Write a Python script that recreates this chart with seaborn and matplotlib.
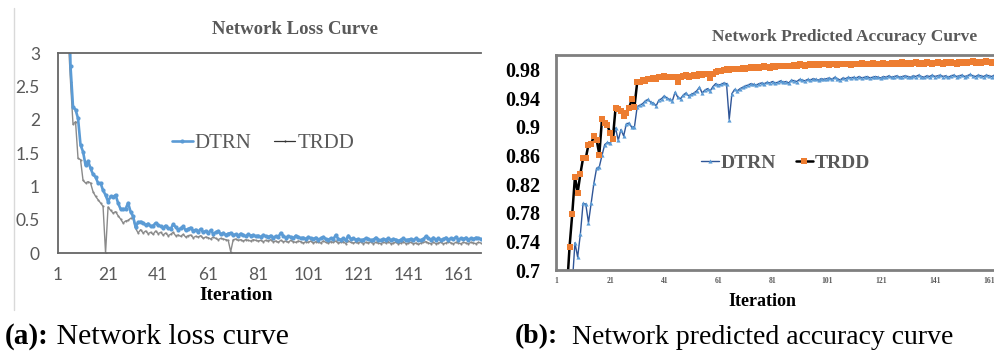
import numpy as np
import pandas as pd
import matplotlib
matplotlib.use('Agg')
import matplotlib.pyplot as plt
import seaborn as sns
from matplotlib.lines import Line2D

# ---- data ----
loss_dtrn = [7.5, 6.6, 5.8, 5.1, 4.5, 2.8, 2.19, 2.15, 2.02, 1.62,
             1.52, 1.32, 1.38, 1.27, 1.18, 1.14, 1.05, 1.05, 0.94, 0.87,
             0.77, 0.85, 0.84, 0.87, 0.75, 0.66, 0.66, 0.66, 0.75, 0.62,
             0.55, 0.39, 0.46,
             0.47, 0.45, 0.42, 0.44, 0.40, 0.41, 0.45,
             0.42, 0.40, 0.38, 0.41, 0.37, 0.36, 0.43, 0.39, 0.35, 0.37,
             0.40, 0.34, 0.36, 0.38, 0.33, 0.35, 0.32, 0.36, 0.31, 0.33,
             0.30, 0.34, 0.29, 0.31, 0.33, 0.28, 0.30, 0.27, 0.29, 0.30,
             0.27, 0.28, 0.26, 0.29, 0.27, 0.25, 0.28, 0.26, 0.27, 0.25,
             0.26, 0.24, 0.27, 0.25, 0.24, 0.26, 0.23, 0.25, 0.24, 0.30,
             0.26, 0.23, 0.25, 0.24, 0.22, 0.26, 0.24, 0.22, 0.23, 0.21,
             0.24, 0.22, 0.21, 0.23, 0.20, 0.22, 0.24, 0.21, 0.20, 0.22,
             0.21, 0.27, 0.21, 0.20, 0.22, 0.19, 0.26, 0.21, 0.22, 0.20,
             0.21, 0.19, 0.20, 0.22, 0.21, 0.19, 0.20, 0.23, 0.20, 0.19,
             0.21, 0.20, 0.22, 0.19, 0.21, 0.20, 0.18, 0.20, 0.22, 0.19,
             0.20, 0.21, 0.19, 0.22, 0.20, 0.19, 0.21, 0.25, 0.22, 0.20,
             0.23, 0.20, 0.22, 0.19, 0.21, 0.23, 0.20, 0.22, 0.21, 0.24,
             0.20, 0.22, 0.21, 0.23, 0.20, 0.22, 0.21, 0.23, 0.22, 0.21]

loss_trdd = [6.5, 5.6, 5.0, 4.4, 3.3, 2.57, 1.93, 1.97, 1.42, 1.40,
             1.09, 1.05, 1.07, 1.05, 0.92, 0.85, 0.80, 0.75, 0.70, 0.0,
             0.69, 0.64, 0.60, 0.62, 0.56, 0.51, 0.45, 0.48, 0.49, 0.52,
             0.52, 0.37, 0.30,
             0.35, 0.30, 0.33, 0.29, 0.31, 0.28, 0.33,
             0.29, 0.31, 0.27, 0.30, 0.26, 0.28, 0.31, 0.26, 0.27, 0.25,
             0.28, 0.24, 0.26, 0.27, 0.23, 0.25, 0.24, 0.26, 0.22, 0.24,
             0.23, 0.21, 0.24, 0.22, 0.20, 0.22, 0.21, 0.20, 0.19, 0.02,
             0.20, 0.21, 0.19, 0.20, 0.18, 0.20, 0.19, 0.18, 0.20, 0.19,
             0.18, 0.19, 0.17, 0.19, 0.18, 0.20, 0.17, 0.18, 0.16, 0.19,
             0.17, 0.18, 0.16, 0.19, 0.17, 0.16, 0.18, 0.17, 0.15, 0.17,
             0.16, 0.18, 0.15, 0.17, 0.16, 0.15, 0.18, 0.16, 0.15, 0.17,
             0.16, 0.18, 0.15, 0.16, 0.17, 0.14, 0.18, 0.16, 0.15, 0.16,
             0.15, 0.17, 0.14, 0.16, 0.15, 0.17, 0.14, 0.16, 0.15, 0.14,
             0.16, 0.15, 0.17, 0.14, 0.15, 0.16, 0.14, 0.15, 0.17, 0.14,
             0.15, 0.16, 0.14, 0.15, 0.13, 0.15, 0.16, 0.17, 0.15, 0.14,
             0.16, 0.14, 0.15, 0.16, 0.14, 0.15, 0.17, 0.15, 0.14, 0.16,
             0.15, 0.14, 0.16, 0.15, 0.14, 0.16, 0.15, 0.14, 0.16, 0.15]

acc_dtrn = [0.55, 0.58, 0.61, 0.63, 0.65, 0.66, 0.68, 0.738, 0.718, 0.750,
            0.793, 0.792, 0.766, 0.793, 0.821, 0.842, 0.844, 0.860, 0.875, 0.878,
            0.877, 0.883, 0.898, 0.881, 0.896, 0.887, 0.904, 0.905, 0.899, 0.900,
            0.928, 0.930, 0.932, 0.936, 0.938, 0.934, 0.933, 0.929, 0.937, 0.939,
            0.943, 0.940, 0.938, 0.936, 0.948, 0.941, 0.939, 0.944, 0.947, 0.943,
            0.945, 0.947, 0.950, 0.955, 0.947, 0.951, 0.953, 0.950, 0.956, 0.960,
            0.958, 0.959, 0.961, 0.960, 0.910, 0.946, 0.952, 0.950, 0.953, 0.955,
            0.957, 0.958, 0.960, 0.959, 0.958, 0.960, 0.961, 0.960, 0.962, 0.961,
            0.963, 0.961, 0.962, 0.964, 0.962, 0.963, 0.961, 0.965, 0.964, 0.963,
            0.966, 0.965, 0.964, 0.966, 0.965, 0.967, 0.966, 0.965, 0.967, 0.966,
            0.967, 0.968, 0.966, 0.969, 0.967, 0.965, 0.968, 0.967, 0.969, 0.968,
            0.969, 0.968, 0.970, 0.968, 0.969, 0.970, 0.968, 0.969, 0.970, 0.969,
            0.968, 0.970, 0.969, 0.971, 0.969, 0.970, 0.971, 0.969, 0.970, 0.971,
            0.970, 0.969, 0.971, 0.970, 0.972, 0.970, 0.969, 0.971, 0.970, 0.972,
            0.970, 0.971, 0.972, 0.970, 0.971, 0.969, 0.971, 0.972, 0.970, 0.971,
            0.972, 0.970, 0.971, 0.973, 0.971, 0.970, 0.972, 0.971, 0.970, 0.972,
            0.971, 0.970, 0.972, 0.971, 0.970]

acc_trdd = [0.50, 0.55, 0.60, 0.64, 0.67, 0.732, 0.778, 0.830, 0.808, 0.834,
            0.856, 0.856, 0.875, 0.876, 0.887, 0.882, 0.861, 0.911, 0.905, 0.902,
            0.891, 0.883, 0.926, 0.924, 0.922, 0.915, 0.919, 0.926, 0.938, 0.928,
            0.962, 0.962, 0.965, 0.964, 0.967, 0.966, 0.968, 0.967, 0.969, 0.970,
            0.971, 0.970, 0.969, 0.970, 0.969, 0.963, 0.970, 0.971, 0.972, 0.970,
            0.971, 0.972, 0.971, 0.973, 0.972, 0.974, 0.973, 0.968, 0.974, 0.976,
            0.977, 0.978, 0.979, 0.980, 0.979, 0.980, 0.981, 0.980, 0.981, 0.982,
            0.981, 0.982, 0.983, 0.982, 0.983, 0.982, 0.983, 0.984, 0.983, 0.982,
            0.984, 0.983, 0.984, 0.985, 0.984, 0.985, 0.984, 0.985, 0.986, 0.985,
            0.987, 0.986, 0.985, 0.986, 0.987, 0.986, 0.987, 0.986, 0.987, 0.988,
            0.987, 0.986, 0.988, 0.987, 0.986, 0.988, 0.987, 0.988, 0.987, 0.986,
            0.988, 0.987, 0.988, 0.989, 0.987, 0.988, 0.987, 0.989, 0.988, 0.987,
            0.988, 0.989, 0.988, 0.987, 0.989, 0.988, 0.989, 0.988, 0.990, 0.988,
            0.989, 0.988, 0.989, 0.990, 0.988, 0.989, 0.988, 0.990, 0.989, 0.988,
            0.989, 0.990, 0.989, 0.988, 0.990, 0.989, 0.990, 0.989, 0.988, 0.990,
            0.989, 0.990, 0.989, 0.990, 0.991, 0.989, 0.990, 0.989, 0.990, 0.991,
            0.990, 0.989, 0.990, 0.991, 0.990]

iter_loss = np.arange(1, len(loss_dtrn) + 1)
iter_acc = np.arange(1, len(acc_dtrn) + 1)
x_ticks = [1, 21, 41, 61, 81, 101, 121, 141, 161]
loss_ticks = [0, 0.5, 1, 1.5, 2, 2.5, 3]
loss_labels = ['0', '0.5', '1', '1.5', '2', '2.5', '3']
acc_ticks = [0.7, 0.74, 0.78, 0.82, 0.86, 0.9, 0.94, 0.98]
acc_labels = ['0.7', '0.74', '0.78', '0.82', '0.86', '0.9', '0.94', '0.98']

sns.set_style('white')
serif = ['Liberation Serif', 'DejaVu Serif']
plt.rcParams['font.family'] = serif

fig = plt.figure(figsize=(9.95, 3.54), dpi=100)
W, H = 995, 354

def px_axes(x0, y0, x1, y1):
    return fig.add_axes([x0 / W, 1 - y1 / H, (x1 - x0) / W, (y1 - y0) / H])

ax1 = px_axes(58, 53, 481, 253)
ax2 = px_axes(556, 55, 995, 270)

# ---- (a) loss ----
sns.lineplot(x=iter_loss, y=loss_trdd, ax=ax1, color='#8a8a8a', lw=1.0,
             marker='o', ms=1.5, mec='#8a8a8a', mew=0, label='TRDD')
sns.lineplot(x=iter_loss, y=loss_dtrn, ax=ax1, color='#5b9bd5', lw=1.9,
             marker='o', ms=3, mec='#5b9bd5', mew=0, label='DTRN')
ax1.set_xlim(1, 170)
ax1.set_ylim(0, 3)
ax1.set_xticks(x_ticks)
ax1.set_yticks(loss_ticks)
ax1.set_yticklabels(loss_labels)
ax1.tick_params(length=0, labelsize=12.5, colors='#595959')
ax1.tick_params(axis='y', pad=13)
ax1.tick_params(axis='x', pad=10)
for lab in ax1.get_xticklabels() + ax1.get_yticklabels():
    lab.set_family(['Lato', 'DejaVu Sans'])
for s in ['left', 'top', 'bottom']:
    ax1.spines[s].set_color('#666666')
    ax1.spines[s].set_linewidth(1.3)
ax1.spines['right'].set_visible(False)
ax1.set_xlabel('')
ax1.set_ylabel('')

h1 = [Line2D([], [], color='#5b9bd5', lw=1.9, marker='o', ms=3, mew=0),
      Line2D([], [], color='#333333', lw=0.9, marker='o', ms=1.5, mew=0)]
leg1 = ax1.legend(h1, ['DTRN', 'TRDD'], ncol=2, frameon=False, loc='center',
                  bbox_to_anchor=(263 / W, 1 - 143 / H), bbox_transform=fig.transFigure,
                  handlelength=1.0, handletextpad=0.1, columnspacing=1.1,
                  prop={'family': serif, 'size': 15})
for t in leg1.get_texts():
    t.set_color('#595959')
    t.set_family(serif)

# ---- (b) accuracy ----
sns.lineplot(x=iter_acc, y=acc_dtrn, ax=ax2, color='#2f5597', lw=1.0,
             marker='^', ms=3, mec='#5b9bd5', mfc='#5b9bd5', mew=0, label='DTRN')
sns.lineplot(x=iter_acc, y=acc_trdd, ax=ax2, color='black', lw=1.8,
             marker='s', ms=4, mec='#ed7d31', mfc='#ed7d31', mew=0, label='TRDD')
ax2.set_xlim(1, 163.2)
ax2.set_ylim(0.7, 1.0)
ax2.set_xticks(x_ticks)
ax2.set_yticks(acc_ticks)
ax2.set_yticklabels(acc_labels)
ax2.tick_params(length=0)
ax2.tick_params(axis='y', labelsize=14.5, colors='black', pad=11)
ax2.tick_params(axis='x', labelsize=5.5, colors='#595959', pad=5)
for lab in ax2.get_yticklabels() + ax2.get_xticklabels():
    lab.set_fontweight('bold')
for s in ['left', 'top', 'bottom']:
    ax2.spines[s].set_color('#7f7f7f')
    ax2.spines[s].set_linewidth(2)
ax2.spines['right'].set_visible(False)
ax2.set_xlabel('')
ax2.set_ylabel('')

h2 = [Line2D([], [], color='#2f5597', lw=1.0, marker='^', ms=3, mfc='#5b9bd5', mec='#5b9bd5', mew=0),
      Line2D([], [], color='black', lw=1.8, marker='s', ms=4, mfc='#ed7d31', mec='#ed7d31', mew=0)]
leg2 = ax2.legend(h2, ['DTRN', 'TRDD'], ncol=2, frameon=False, loc='center',
                  bbox_to_anchor=(786 / W, 1 - 163 / H), bbox_transform=fig.transFigure,
                  handlelength=0.9, handletextpad=0.1, columnspacing=1.0,
                  prop={'family': serif, 'size': 14, 'weight': 'bold'})
for t in leg2.get_texts():
    t.set_color('#595959')

# ---- titles, axis labels, captions ----
fig.text(295 / W, 1 - 30 / H, 'Network Loss Curve', ha='center', va='center',
         fontsize=13.5, fontweight='bold', color='#595959')
fig.text(236 / W, 1 - 296 / H, 'Iteration', ha='center', va='center',
         fontsize=14, fontweight='bold', color='black')
fig.text(845 / W, 1 - 37 / H, 'Network Predicted Accuracy Curve', ha='center', va='center',
         fontsize=12.5, fontweight='bold', color='#595959')
fig.text(762 / W, 1 - 302 / H, 'Iteration', ha='center', va='center',
         fontsize=13, fontweight='bold', color='black')

ta = fig.text(5 / W, 1 - 337 / H, '(a):', ha='left', va='center',
              fontsize=21, fontweight='bold', color='black')
ax1.annotate(' Network loss curve', xy=(1, 0.5), xycoords=ta, va='center', ha='left',
             fontsize=21.5, color='black', annotation_clip=False)
tb = fig.text(515 / W, 1 - 337 / H, '(b):', ha='left', va='center',
              fontsize=20, fontweight='bold', color='black')
ax2.annotate('  Network predicted accuracy curve', xy=(1, 0.5), xycoords=tb, va='center',
             ha='left', fontsize=20, color='black', annotation_clip=False)

# light frame line at the left edge of panel (a)
fig.add_artist(Line2D([14 / W, 14 / W], [1 - 8 / H, 1 - 310 / H], color='#d9d9d9', lw=1))

fig.savefig('out.png', dpi=100)
